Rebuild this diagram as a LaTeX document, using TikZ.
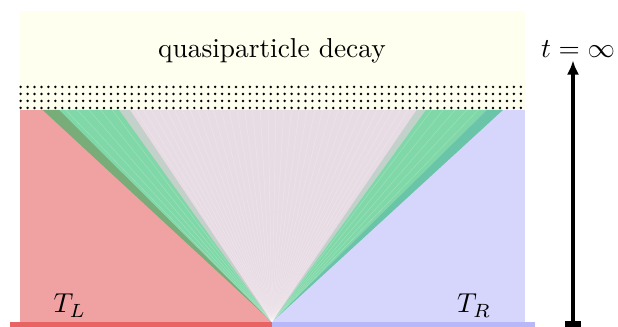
\documentclass[tikz,border=0pt]{standalone}
\usepackage{xcolor}
\usepackage{tikz}
\usetikzlibrary{arrows.meta}

\definecolor{hotred}{RGB}{240,162,162}
\definecolor{hotbar}{RGB}{232,100,100}
\definecolor{coldblue}{RGB}{214,214,252}
\definecolor{coldbar}{RGB}{184,184,248}
\definecolor{mixdark}{RGB}{120,172,120}
\definecolor{qpgreen}{RGB}{128,216,168}
\definecolor{qpgrey}{RGB}{194,210,202}
\definecolor{qpcenter}{RGB}{232,220,228}
\definecolor{mixteal}{RGB}{106,196,168}
\definecolor{decayyellow}{RGB}{255,255,240}

\begin{document}
\begin{tikzpicture}[
            >=Latex,
            ray/.style={white, opacity=0.25, line width=0.15pt},
            bathbar/.style={line width=1.8pt},
            timearrow/.style={line width=1.5pt, {Rectangle[width=6.2pt,length=2.2pt]}-{Latex[width=4.5pt,length=5.2pt]}},
            lbl/.style={anchor=base, inner sep=0pt}
        ]
        \useasboundingbox (-3.492,-0.064) rectangle (4.443,4.134);

        % reservoirs and decay layer
        \fill[decayyellow] (-3.24,2.722) rectangle (3.249,3.993);
        \fill[hotred] (-3.24,0) rectangle (0,2.722);
        \fill[coldblue] (0,0) rectangle (3.249,2.722);

        % light cone fan
        \coordinate (apex) at (0,0);
        \foreach \a/\b/\c in {-2.944/-2.731/mixdark, -2.731/-1.961/qpgreen, -1.961/-1.823/qpgrey,
                              -1.823/1.858/qpcenter, 1.858/1.977/qpgrey, 1.977/2.761/qpgreen, 2.761/2.966/mixteal}
            \fill[\c] (apex) -- (\a,2.722) -- (\b,2.722) -- cycle;
        \foreach \x in {-2.65,-2.5,...,-2.0,-1.75,-1.65,...,1.8,2.05,2.2,...,2.7}
            \draw[ray] (apex) -- (\x,2.722);

        % dotted boundary
        \foreach \i in {0,...,72}
            \foreach \j in {0,...,3}
                \fill (-3.227+\i*0.0892, 2.748+\j*0.0899) circle (0.5pt);

        % baths
        \coordinate (barl) at (-3.364,-0.032);
        \coordinate (barm) at (0,-0.032);
        \coordinate (barr) at (3.377,-0.032);
        \draw[bathbar, hotbar] (barl) -- (barm);
        \draw[bathbar, coldbar] (barm) -- (barr);

        \node[lbl] (decay) at (0,3.39) {quasiparticle decay};
        \node[lbl] (TL) at (-2.594,0.116) {$T_L$};
        \node[lbl] (TR) at (2.594,0.116) {$T_R$};

        % time axis
        \coordinate (tstart) at (3.865,-0.064);
        \coordinate (tend) at (3.865,3.358);
        \draw[timearrow] (tstart) -- (tend);
        \node[lbl] (tinf) at (3.93,3.40) {$t=\infty$};
    \end{tikzpicture}
\end{document}
